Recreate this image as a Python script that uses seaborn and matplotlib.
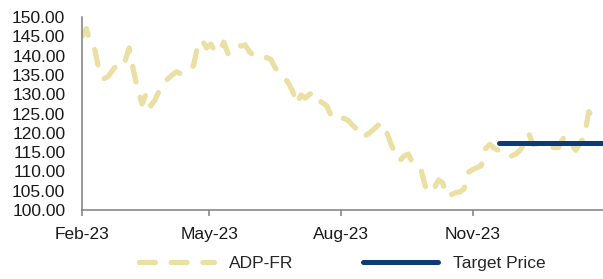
import matplotlib
matplotlib.use("Agg")
import matplotlib.pyplot as plt
import matplotlib.dates as mdates
from matplotlib.ticker import FormatStrFormatter
import pandas as pd
import seaborn as sns

# ADP-FR share price, every 3 days from 1 Feb 2023
price_start = "2023-02-01"
price_values = [
    145, 147, 143, 141.5, 136, 134, 134.5, 136, 137.5, 139,
    138.5, 142, 136, 131, 127.5, 130.3, 127, 128.5, 131, 132.8,
    134, 135, 135.8, 135.3, 135.5, 136.3, 137.5, 143, 144, 142,
    143, 141, 141, 143.5, 140.5, 141, 142.5, 142.5, 142.8, 141,
    140, 139.5, 139.4, 139.5, 139, 136.8, 135.5, 134.5, 133, 131,
    127.5, 129.8, 129, 130, 130.5, 128.5, 127.8, 127, 124.5, 123.5,
    123.5, 123.8, 123.2, 122, 121, 119, 119.3, 120, 121, 122,
    122.5, 120, 117, 114.5, 112.8, 114, 114.5, 112.2, 111, 110.2,
    106, 107, 105.5, 107.8, 107, 103.5, 104, 104.5, 104.7, 105.5,
    109.8, 110.5, 111, 111.5, 116, 117, 116, 115.5, 115.5, 115,
    114, 114.5, 115.5, 117.5, 120, 117, 117.2, 117.5, 117, 116.5,
    116.2, 116.2, 118.5, 118.9, 117, 115.5, 117.4, 119, 125.5, 124,
    124.5, 124.6,
]
price_dates = pd.date_range(price_start, periods=len(price_values), freq="3D")

target_dates = pd.to_datetime(["2023-11-19", "2024-01-31"])
target_values = [117.5, 117.5]

y_ticks = [100, 105, 110, 115, 120, 125, 130, 135, 140, 145, 150]
x_ticks = pd.to_datetime(["2023-02-01", "2023-05-01", "2023-08-01", "2023-11-01"])

sns.set_style("white")
plt.rcParams["font.family"] = ["Liberation Sans", "DejaVu Sans"]
plt.rcParams["font.size"] = 12.5

fig = plt.figure(figsize=(6.03, 2.79), dpi=100)
ax = fig.add_axes([0.136, 0.247, 0.864, 0.692])

sns.lineplot(x=price_dates, y=price_values, ax=ax, color="#EAE0A4",
             linewidth=3.8, linestyle=(0, (3.0, 3.0)),
             dash_capstyle="round", label="ADP-FR")
sns.lineplot(x=target_dates, y=target_values, ax=ax, color="#0B3B78",
             linewidth=3.6, solid_capstyle="round", label="Target Price")

ax.set_xlim(pd.Timestamp("2023-02-01"), pd.Timestamp("2024-01-31"))
ax.set_ylim(100, 150)
ax.set_yticks(y_ticks)
ax.yaxis.set_major_formatter(FormatStrFormatter("%.2f"))
ax.set_xticks(x_ticks)
ax.xaxis.set_major_formatter(mdates.DateFormatter("%b-%y"))
ax.set_xlabel("")
ax.set_ylabel("")

for side in ["top", "right"]:
    ax.spines[side].set_visible(False)
for side in ["left", "bottom"]:
    ax.spines[side].set_color("#7F7F7F")
    ax.spines[side].set_linewidth(1.1)

ax.tick_params(axis="y", length=0, pad=12, labelsize=12.5, colors="#1A1A1A")
ax.tick_params(axis="x", length=4, width=1.1, color="#7F7F7F", pad=8,
               labelsize=12.5, labelcolor="#1A1A1A", direction="out", bottom=True)

ax.legend(loc="center", bbox_to_anchor=(0.5, -0.275), ncol=2,
          frameon=False, handlelength=4.3, handletextpad=0.9,
          columnspacing=4.0, fontsize=12.5, borderpad=0, borderaxespad=0)

fig.savefig("out.png", dpi=100)
